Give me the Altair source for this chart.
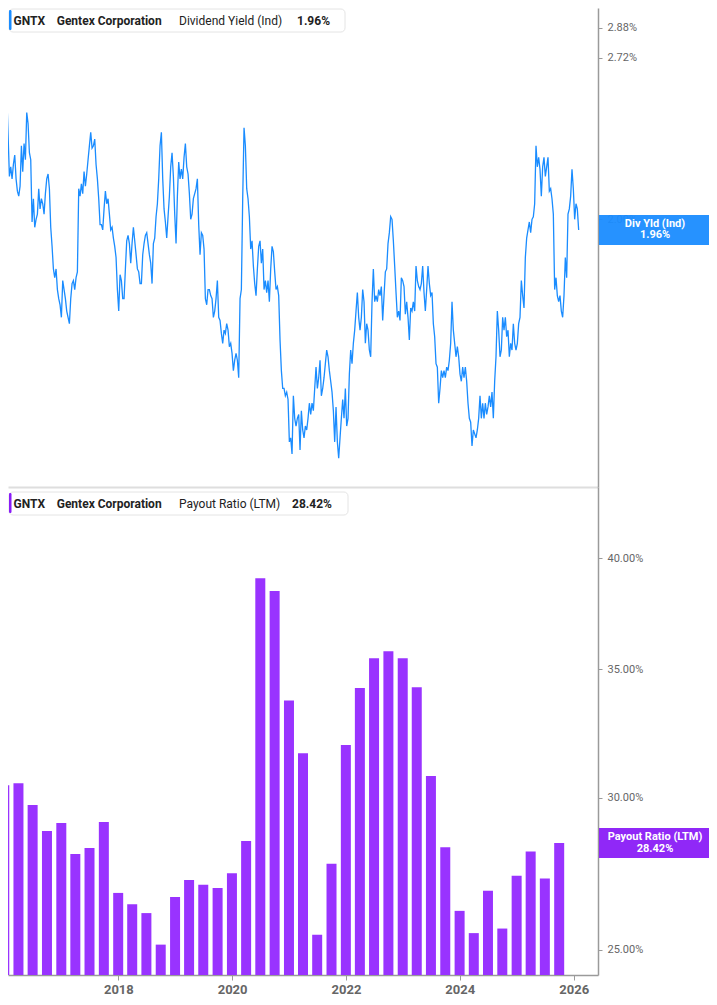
import altair as alt
import pandas as pd

TICKER = "GNTX"
COMPANY = "Gentex Corporation"
YIELD_LABEL = "Dividend Yield (Ind)"
YIELD_TAG = "Div Yld (Ind)"
PAYOUT_LABEL = "Payout Ratio (LTM)"

BLUE = "#1a8cff"
PURPLE = "#9933ff"
PURPLE_TAG = "#8a1cf7"
FONT = "Roboto"

# daily dividend yield (%), sampled evenly from 2016-01-06 to 2026-01-03
YIELD_START = "2016-01-06"
YIELD_END = "2026-01-03"
yield_2016_2019 = [
    2.39, 2.53, 2.51, 2.55, 2.46, 2.54, 2.35, 2.17, 2.21, 2.16,
    2.22, 2.26, 2.16, 2.11, 2.09, 2.13, 2.30, 2.19, 2.31, 2.24,
    2.45, 2.40, 2.27, 2.24, 1.99, 2.08, 1.97, 2.00, 2.02, 2.12,
    2.04, 2.08, 2.06, 2.02, 2.10, 2.16, 2.18, 2.12, 1.97, 1.90,
    1.82, 1.79, 1.82, 1.75, 1.72, 1.70, 1.66, 1.78, 1.75, 1.72,
    1.68, 1.66, 1.64, 1.72, 1.77, 1.78, 1.75, 1.79, 1.81, 2.12,
    2.09, 2.14, 2.10, 2.19, 2.13, 2.18, 2.24, 2.30, 2.36, 2.29,
    2.30, 2.33, 2.22, 2.16, 2.08, 1.98, 1.98, 1.96, 2.04, 2.11,
    2.06, 2.08, 2.02, 1.96, 1.97, 1.93, 1.90, 1.86, 1.75, 1.68,
    1.80, 1.78, 1.72, 1.72, 1.82, 1.92, 1.94, 1.91, 1.84, 1.91,
    1.97, 1.92, 1.87, 1.82, 1.81, 1.77, 1.77, 1.87, 1.91, 1.94,
    1.95, 1.91, 1.87, 1.84, 1.77, 1.91, 1.93, 2.01, 2.06, 2.16,
    2.30, 2.36, 2.16, 2.04, 1.99, 1.93, 2.01, 2.09, 2.21, 2.27,
    2.17, 2.02, 1.91, 2.09, 2.23, 2.16, 2.20, 2.16, 2.25, 2.31,
    2.21, 2.18, 2.10, 2.00, 2.02, 2.08, 2.10, 2.12, 2.16, 1.98,
]
yield_2019_2022 = [
    1.87, 1.95, 1.94, 1.89, 1.72, 1.70, 1.75, 1.75, 1.73, 1.72,
    1.66, 1.68, 1.72, 1.78, 1.66, 1.65, 1.61, 1.58, 1.62, 1.61,
    1.64, 1.62, 1.57, 1.58, 1.55, 1.50, 1.53, 1.55, 1.53, 1.48,
    1.72, 1.75, 2.08, 2.38, 2.30, 2.12, 2.08, 2.01, 1.89, 1.92,
    1.83, 1.77, 1.73, 1.82, 1.90, 1.92, 1.84, 1.89, 1.75, 1.78,
    1.74, 1.78, 1.71, 1.82, 1.90, 1.88, 1.81, 1.75, 1.76, 1.73,
    1.59, 1.50, 1.45, 1.45, 1.43, 1.44, 1.42, 1.31, 1.32, 1.28,
    1.43, 1.37, 1.35, 1.37, 1.38, 1.29, 1.39, 1.34, 1.32, 1.35,
    1.34, 1.37, 1.41, 1.38, 1.41, 1.39, 1.45, 1.51, 1.45, 1.48,
    1.53, 1.43, 1.45, 1.48, 1.52, 1.56, 1.54, 1.50, 1.47, 1.44,
    1.39, 1.31, 1.40, 1.31, 1.27, 1.32, 1.37, 1.42, 1.37, 1.45,
    1.35, 1.37, 1.49, 1.56, 1.52, 1.58, 1.62, 1.68, 1.74, 1.66,
    1.62, 1.66, 1.75, 1.71, 1.58, 1.64, 1.62, 1.56, 1.54, 1.71,
    1.82, 1.71, 1.73, 1.71, 1.75, 1.73, 1.76, 1.65, 1.73, 1.81,
    1.82, 1.91, 1.95, 2.01, 2.00, 1.92, 1.83, 1.74, 1.66, 1.68,
]
yield_2022_2026 = [
    1.65, 1.79, 1.78, 1.76, 1.67, 1.71, 1.66, 1.59, 1.69, 1.68,
    1.71, 1.68, 1.83, 1.78, 1.76, 1.75, 1.77, 1.83, 1.74, 1.68,
    1.75, 1.83, 1.77, 1.73, 1.74, 1.64, 1.60, 1.52, 1.51, 1.41,
    1.45, 1.50, 1.48, 1.50, 1.48, 1.51, 1.50, 1.53, 1.58, 1.71,
    1.62, 1.58, 1.54, 1.57, 1.54, 1.49, 1.47, 1.51, 1.48, 1.51,
    1.47, 1.41, 1.37, 1.36, 1.30, 1.34, 1.33, 1.32, 1.34, 1.37,
    1.43, 1.37, 1.41, 1.37, 1.41, 1.38, 1.40, 1.43, 1.40, 1.44,
    1.37, 1.47, 1.54, 1.68, 1.62, 1.54, 1.56, 1.66, 1.62, 1.66,
    1.60, 1.62, 1.54, 1.58, 1.56, 1.64, 1.58, 1.56, 1.58, 1.64,
    1.66, 1.78, 1.73, 1.69, 1.86, 1.93, 1.96, 1.99, 1.95, 2.00,
    2.01, 2.06, 2.30, 2.21, 2.25, 2.20, 2.09, 2.21, 2.25, 2.17,
    2.21, 2.25, 2.11, 2.12, 2.08, 2.02, 1.75, 1.79, 1.73, 1.71,
    1.73, 1.68, 1.66, 1.73, 1.86, 1.79, 2.02, 2.04, 2.09, 2.20,
    2.12, 2.00, 2.06, 2.04, 1.96,
]

# quarterly payout ratio (%), one bar per quarter end from 2015-12-31
PAYOUT_FIRST_QUARTER = "2015-12-31"
payout_ratio = [
    30.46, 30.53, 29.75, 28.83, 29.11, 28.05, 28.25, 29.15, 26.77, 26.41,
    26.13, 25.16, 26.64, 27.19, 27.03, 26.93, 27.41, 28.49, 39.05, 38.45,
    33.72, 31.65, 25.46, 27.72, 31.97, 34.23, 35.47, 35.77, 35.47, 34.26,
    30.80, 28.28, 26.20, 25.51, 26.84, 25.65, 27.33, 28.13, 27.24, 28.42,
]

YEAR_TICKS = [2018, 2020, 2022, 2024, 2026]
YIELD_TICKS = [2.00, 2.72, 2.88]
PAYOUT_TICKS = [25, 30, 35, 40]
YIELD_DOMAIN = [1.2023, 2.989]
PAYOUT_DOMAIN = [24.26, 43.56]

yields = yield_2016_2019 + yield_2019_2022 + yield_2022_2026
line_df = pd.DataFrame({
    "date": pd.date_range(YIELD_START, YIELD_END, periods=len(yields)),
    "yield": yields,
})
bar_df = pd.DataFrame({
    "date": pd.date_range(PAYOUT_FIRST_QUARTER, periods=len(payout_ratio), freq=pd.offsets.QuarterEnd()),
    "payout": payout_ratio,
})
bar_df["floor"] = PAYOUT_DOMAIN[0]

yield_last = line_df.tail(1).copy()
yield_last["line1"] = YIELD_TAG
yield_last["line2"] = f"{yields[-1]:.2f}%"
payout_last = bar_df.tail(1).copy()
payout_last["line1"] = PAYOUT_LABEL
payout_last["line2"] = f"{payout_ratio[-1]:.2f}%"

x_scale = alt.Scale(
    domain=[alt.DateTime(year=2016, month=2, date=25), alt.DateTime(year=2026, month=5, date=5)]
)
pct_expr = "format(datum.value, '.2f') + '%'"


def right_axis(values):
    return alt.Axis(
        orient="right", values=values, labelExpr=pct_expr, title=None, tickSize=4,
        labelPadding=5, labelFontSize=11, labelColor="#666666", domainColor="#9a9a9a",
        domainWidth=1.5, tickColor="#9a9a9a", grid=False, zindex=0,
    )


def header(texts, color, box_right, top):
    base = alt.Chart(pd.DataFrame({"t": [0]}))
    box = base.mark_rect(fill="white", stroke="#e4e4e4", cornerRadius=4).encode(
        x=alt.value(1), x2=alt.value(box_right), y=alt.value(top + 1), y2=alt.value(top + 24)
    )
    bar = base.mark_rect(fill=color, cornerRadius=1.5).encode(
        x=alt.value(1), x2=alt.value(3.5), y=alt.value(top + 2), y2=alt.value(top + 22)
    )
    layers = [box, bar]
    for text, xpos, weight in texts:
        layers.append(
            base.mark_text(
                align="left", baseline="middle", font=FONT, fontSize=12,
                fontWeight=weight, color="#222222", text=text,
            ).encode(x=alt.value(xpos), y=alt.value(top + 12.5))
        )
    return layers


def tag(frame, field, color):
    box = alt.Chart(frame).mark_rect(color=color, yOffset=-15, y2Offset=15, opacity=0.95).encode(
        x=alt.value(591), x2=alt.value(701), y=alt.Y(f"{field}:Q"), y2=alt.Y2(f"{field}:Q")
    )
    layers = [box]
    for line_field, dy in (("line1", -6), ("line2", 5.5)):
        layers.append(
            alt.Chart(frame).mark_text(
                color="white", font=FONT, fontSize=11, fontWeight="bold",
                align="center", baseline="middle", dy=dy,
            ).encode(x=alt.value(647), y=alt.Y(f"{field}:Q"), text=f"{line_field}:N")
        )
    return layers


line = alt.Chart(line_df).mark_line(color=BLUE, strokeWidth=1.3, clip=True).encode(
    x=alt.X(
        "date:T", scale=x_scale,
        axis=alt.Axis(labels=False, ticks=False, title=None, domainColor="#dedede", domainWidth=2, grid=False),
    ),
    y=alt.Y(
        "yield:Q",
        scale=alt.Scale(type="log", domain=YIELD_DOMAIN, nice=False),
        axis=right_axis(YIELD_TICKS),
    ),
)
top = alt.layer(
    line,
    *header(
        [(TICKER, 5.5, "bold"), (COMPANY, 48.7, "bold"), (YIELD_LABEL, 171, "normal"),
         (f"{yields[-1]:.2f}%", 289, "bold")],
        BLUE, 337, 0,
    ),
    *tag(yield_last, "yield", BLUE),
).properties(width=590, height=479)

bars = alt.Chart(bar_df).mark_bar(color=PURPLE, width=10, clip=True).encode(
    x=alt.X(
        "date:T", scale=x_scale,
        axis=alt.Axis(
            values=[alt.DateTime(year=y, month=1, date=1) for y in YEAR_TICKS], format="%Y",
            title=None, labelFontSize=13, labelFontWeight="bold", labelColor="#666666",
            tickSize=5, labelPadding=3, domainColor="#9a9a9a", domainWidth=1.5,
            tickColor="#9a9a9a", labelFlush=False, grid=False,
        ),
    ),
    y=alt.Y(
        "payout:Q",
        scale=alt.Scale(type="log", domain=PAYOUT_DOMAIN, nice=False),
        axis=right_axis(PAYOUT_TICKS),
    ),
    y2="floor:Q",
)
bottom = alt.layer(
    bars,
    *header(
        [(TICKER, 5.5, "bold"), (COMPANY, 48.7, "bold"), (PAYOUT_LABEL, 171, "normal"),
         (f"{payout_ratio[-1]:.2f}%", 284, "bold")],
        PURPLE_TAG, 340, 4,
    ),
    *tag(payout_last, "payout", PURPLE_TAG),
).properties(width=590, height=488)

chart = (
    alt.vconcat(top, bottom, spacing=0, bounds="flush", padding=0)
    .resolve_scale(y="independent")
    .configure_view(stroke=None)
    .configure_axis(labelFont=FONT)
)

chart.save("out.html", embed_options={"renderer": "svg", "actions": False})
